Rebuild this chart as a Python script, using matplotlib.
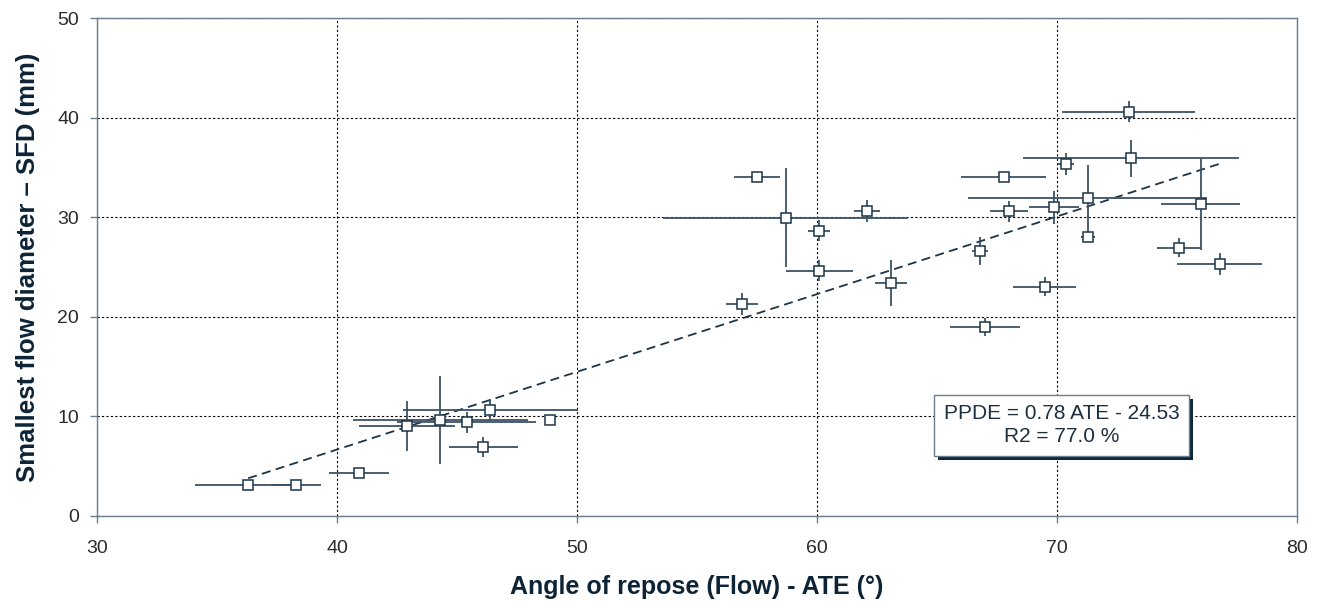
import numpy as np
import matplotlib.pyplot as plt
from matplotlib import patheffects

plt.rcParams['font.family'] = ['Liberation Sans', 'DejaVu Sans']

# angle of repose (ATE) and smallest flow diameter (SFD), with error half-widths
ate = [36.3, 38.3, 40.9, 42.9, 44.3, 45.4, 46.4, 48.9, 46.1,
       57.5, 58.7, 60.1, 60.1, 62.1, 63.1, 56.9,
       73.0, 73.1, 70.4, 67.8, 71.3, 69.9, 68.0, 76.0, 71.3,
       66.8, 75.1, 76.8, 69.5, 67.0]
sfd = [3.1, 3.1, 4.35, 9.0, 9.65, 9.4, 10.65, 9.65, 6.95,
       34.0, 29.95, 28.65, 24.65, 30.6, 23.4, 21.3,
       40.6, 35.9, 35.3, 34.0, 31.9, 31.0, 30.6, 31.3, 28.0,
       26.6, 26.95, 25.3, 23.0, 19.0]
ate_err = [2.2, 1.05, 1.25, 2.0, 3.65, 2.9, 3.65, 0.0, 1.45,
           0.95, 5.1, 0.45, 1.4, 0.53, 0.66, 0.67,
           2.78, 4.5, 0.33, 1.77, 4.98, 1.04, 0.8, 1.66, 0.3,
           0.33, 0.9, 1.77, 1.32, 1.46]
sfd_err = [0.0, 0.0, 0.4, 2.5, 4.45, 1.05, 1.1, 0.4, 1.0,
           0.0, 4.97, 1.08, 1.08, 1.08, 2.3, 1.07,
           1.07, 1.9, 1.1, 0.0, 3.37, 1.67, 1.05, 4.55, 0.0,
           1.42, 0.95, 1.12, 0.95, 0.92]

slope, intercept, r2 = 0.78, -24.53, 77.0

navy = '#1d3447'
line_col = '#3b5266'

fig = plt.figure(figsize=(13.22, 6.02), dpi=100)
ax = fig.add_axes([0.0734, 0.1429, 0.9074, 0.8271])

ax.errorbar(ate, sfd, xerr=ate_err, yerr=sfd_err, fmt='s', ms=6.5,
            mfc='white', mec=navy, mew=1.1, ecolor=line_col, elinewidth=1.3,
            capsize=0, zorder=3)

xfit = np.array([min(ate), max(ate)])
ax.plot(xfit, slope * xfit + intercept, color=navy, lw=1.3,
        ls=(0, (5, 3)), zorder=2)

ax.set_xlim(30, 80)
ax.set_ylim(0, 50)
ax.set_xticks(range(30, 81, 10))
ax.set_yticks(range(0, 51, 10))
ax.grid(True, color='black', ls=(0, (2, 2)), lw=0.8)
ax.set_axisbelow(True)
for s in ax.spines.values():
    s.set_color('#6b7c8c')
    s.set_linewidth(1.0)
ax.tick_params(colors='#6b7c8c', labelcolor='#2b2b2b', labelsize=14,
               length=5, width=1)
ax.tick_params(axis='x', pad=12)
ax.tick_params(axis='y', pad=8)

ax.set_xlabel('Angle of repose (Flow) - ATE (°)', fontsize=18,
              fontweight='bold', color='#0d2436', labelpad=13)
ax.set_ylabel('Smallest flow diameter – SFD (mm)', fontsize=18.5,
              fontweight='bold', color='#0d2436', labelpad=12)

txt = ax.text(70.2, 9.1, 'PPDE = %.2f ATE - %.2f\nR2 = %.1f %%' % (slope, -intercept, r2),
              ha='center', va='center', fontsize=15, color='#1d2e3d',
              linespacing=1.25,
              bbox=dict(boxstyle='square,pad=0.45', fc='white', ec='#6b7c8c', lw=1))
txt.get_bbox_patch().set_path_effects([
    patheffects.SimplePatchShadow(offset=(3, -3), shadow_rgbFace='#10263a', alpha=1.0),
    patheffects.Normal()])

fig.savefig('out.png', dpi=100)
